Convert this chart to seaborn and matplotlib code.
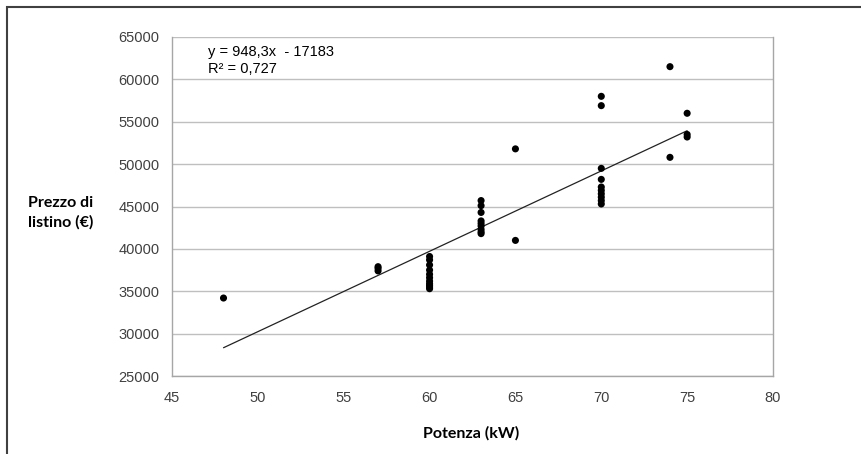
import matplotlib
matplotlib.use("Agg")
import matplotlib.pyplot as plt
import seaborn as sns
import pandas as pd
from matplotlib.patches import Rectangle

potenza = [48,
           57, 57, 57,
           60, 60, 60, 60, 60, 60, 60, 60, 60, 60, 60,
           63, 63, 63, 63, 63, 63, 63, 63, 63,
           65, 65,
           70, 70, 70, 70, 70, 70, 70, 70, 70, 70,
           74, 74,
           75, 75, 75]
prezzo = [34200,
          37400, 37700, 37900,
          39100, 38700, 38100, 37500, 37000, 36600, 36200, 35900, 35700, 35500, 35300,
          45700, 45100, 44300, 43300, 43000, 42700, 42300, 42000, 41800,
          51800, 41000,
          58000, 56900, 49500, 48200, 47300, 46900, 46500, 46100, 45700, 45300,
          61500, 50800,
          56000, 53500, 53200]

trend_x = [48, 75]
slope = 948.3
intercept = -17183
equation = "y = 948,3x  - 17183"
r2_label = "R² = 0,727"

xticks = [45, 50, 55, 60, 65, 70, 75, 80]
yticks = [25000, 30000, 35000, 40000, 45000, 50000, 55000, 60000, 65000]

df = pd.DataFrame({"Potenza": potenza, "Prezzo": prezzo})
trend = pd.DataFrame({"x": trend_x, "y": [slope * v + intercept for v in trend_x]})

sns.set_theme(style="white")
plt.rcParams["font.family"] = ["Liberation Sans", "DejaVu Sans"]

fig = plt.figure(figsize=(8.62, 4.54), dpi=100)
W, H = 862, 454
ax = fig.add_axes([172 / W, 1 - 376 / H, (773 - 172) / W, (376 - 37) / H])

sns.scatterplot(data=df, x="Potenza", y="Prezzo", ax=ax, color="black",
                s=26, edgecolor="none", zorder=3)
sns.lineplot(data=trend, x="x", y="y", ax=ax, color="#222222", linewidth=0.9, zorder=2)

ax.set_xlim(45, 80)
ax.set_ylim(25000, 65000)
ax.set_xticks(xticks)
ax.set_yticks(yticks)
ax.set_xticklabels([str(v) for v in xticks])
ax.set_yticklabels([str(v) for v in yticks])
ax.yaxis.grid(True, color="#bfbfbf", linewidth=1)
ax.xaxis.grid(False)
ax.set_axisbelow(True)
for side in ["left", "bottom", "right"]:
    ax.spines[side].set_visible(True)
    ax.spines[side].set_color("#a6a6a6")
    ax.spines[side].set_linewidth(1)
ax.spines["top"].set_visible(False)
ax.tick_params(axis="both", which="both", direction="out", length=5, width=1,
               color="#a6a6a6", labelcolor="#404040", labelsize=10.5)
ax.tick_params(axis="x", pad=6)
ax.tick_params(axis="y", pad=4)
ax.set_xlabel("")
ax.set_ylabel("")

fig.text(471 / W, 1 - 433 / H, "Potenza (kW)", ha="center", va="center",
         fontsize=11.5, fontweight="bold", color="black", family=["Lato", "DejaVu Sans"])
fig.text(61 / W, 1 - 213 / H, "Prezzo di\nlistino (€)", ha="center", va="center",
         fontsize=11.5, fontweight="bold", color="black", linespacing=1.45,
         family=["Lato", "DejaVu Sans"])

ax.text(208 / W, 1 - 52 / H, equation, transform=fig.transFigure, ha="left",
        va="center", fontsize=10.5, color="black")
ax.text(208 / W, 1 - 69 / H, r2_label, transform=fig.transFigure, ha="left",
        va="center", fontsize=10.5, color="black")

fig.patches.append(Rectangle((7 / W, -0.1), 1.2, 1 - 7 / H + 0.1,
                             transform=fig.transFigure, fill=False,
                             edgecolor="#404040", linewidth=1.5))

fig.savefig("out.png", dpi=100)
